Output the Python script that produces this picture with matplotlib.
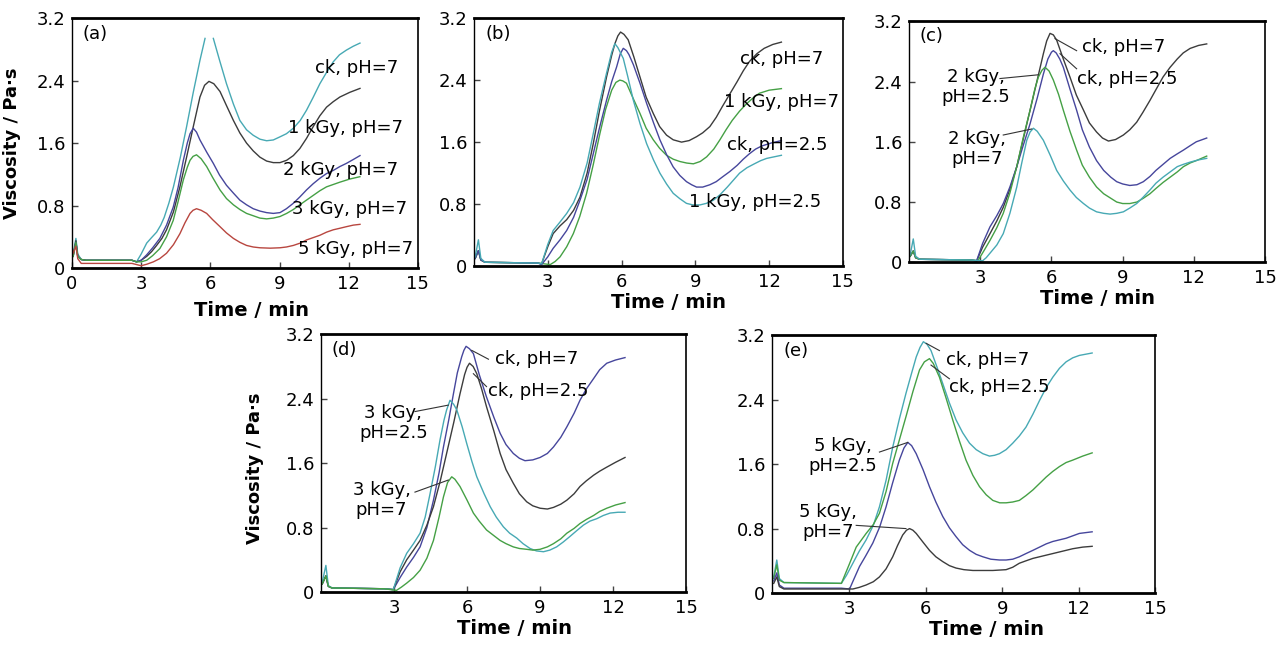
import numpy as np
import matplotlib
matplotlib.use("Agg")
import matplotlib.pyplot as plt

# ---------------- data: (time / min, viscosity / Pa·s) ----------------
# Panel (a)
A_CK7 = [(0.05, .18), (.17, .38), (.25, .18), (.4, .11), (.6, .10), (2.6, .10), (2.8, .08), (3.0, .18),
         (3.24, .32), (3.45, .39), (3.67, .46), (3.85, .55), (4.0, .65), (4.2, .83), (4.4, 1.04), (4.7, 1.42),
         (4.97, 1.81), (5.26, 2.25), (5.55, 2.66), (5.77, 2.94), (np.nan, np.nan), (6.13, 2.94), (6.4, 2.66),
         (6.7, 2.36), (7.0, 2.10), (7.28, 1.89), (7.57, 1.77), (7.86, 1.70), (8.15, 1.65), (8.44, 1.63),
         (8.73, 1.64), (9.02, 1.68), (9.3, 1.72), (9.6, 1.79), (9.9, 1.89), (10.17, 2.02), (10.45, 2.18),
         (10.75, 2.36), (11.05, 2.51), (11.33, 2.64), (11.6, 2.73), (11.9, 2.79), (12.2, 2.84), (12.49, 2.88)]
A_1K7 = [(0.05, .15), (.17, .35), (.25, .15), (.4, .11), (.6, .10), (2.6, .10), (2.8, .08), (3.0, .10),
         (3.24, .15), (3.45, .21), (3.67, .29), (3.9, .38), (4.1, .49), (4.4, .72), (4.68, 1.04), (4.97, 1.42),
         (5.26, 1.81), (5.55, 2.19), (5.75, 2.34), (5.94, 2.39), (6.15, 2.36), (6.42, 2.26), (6.7, 2.08),
         (7.0, 1.89), (7.28, 1.73), (7.57, 1.60), (7.86, 1.50), (8.15, 1.42), (8.44, 1.37), (8.73, 1.35),
         (9.02, 1.35), (9.31, 1.38), (9.6, 1.44), (9.88, 1.53), (10.17, 1.66), (10.46, 1.81), (10.75, 1.95),
         (11.04, 2.06), (11.33, 2.13), (11.62, 2.19), (12.05, 2.25), (12.49, 2.30)]
A_2K7 = [(0.05, .15), (.17, .33), (.25, .15), (.4, .11), (.6, .10), (2.6, .10), (2.8, .08), (3.0, .10),
         (3.24, .17), (3.5, .26), (3.81, .38), (4.1, .55), (4.39, .78), (4.6, 1.03), (4.83, 1.38), (5.0, 1.60),
         (5.12, 1.72), (5.26, 1.79), (5.4, 1.74), (5.55, 1.64), (5.85, 1.48), (6.13, 1.34), (6.4, 1.19),
         (6.7, 1.06), (7.0, 0.96), (7.28, 0.87), (7.57, 0.81), (7.86, 0.76), (8.15, 0.73), (8.44, 0.71),
         (8.73, 0.70), (9.02, 0.71), (9.3, 0.76), (9.6, 0.83), (9.88, 0.91), (10.17, 1.00), (10.46, 1.08),
         (10.75, 1.15), (11.04, 1.21), (11.33, 1.25), (11.62, 1.30), (11.9, 1.34), (12.2, 1.39), (12.49, 1.44)]
A_3K7 = [(0.05, .15), (.17, .33), (.25, .15), (.4, .11), (.6, .10), (2.6, .10), (2.8, .08), (3.0, .08),
         (3.24, .10), (3.5, .16), (3.81, .25), (4.1, .40), (4.39, .61), (4.6, .85), (4.83, 1.13), (5.0, 1.29),
         (5.12, 1.38), (5.25, 1.43), (5.4, 1.45), (5.6, 1.40), (5.84, 1.30), (6.1, 1.16), (6.42, 1.00),
         (6.7, 0.89), (7.0, 0.81), (7.28, 0.75), (7.57, 0.70), (7.86, 0.67), (8.15, 0.64), (8.44, 0.63),
         (8.73, 0.64), (9.02, 0.66), (9.31, 0.70), (9.6, 0.75), (9.88, 0.81), (10.17, 0.87), (10.46, 0.93),
         (10.75, 0.99), (11.04, 1.04), (11.33, 1.07), (11.62, 1.10), (12.05, 1.14), (12.49, 1.17)]
A_5K7 = [(0.05, .19), (.17, .28), (.25, .12), (.4, .06), (2.6, .06), (3.0, .03), (3.25, .05), (3.53, .08),
         (3.8, .12), (4.1, .19), (4.4, .30), (4.68, .44), (4.9, .58), (5.12, .70), (5.25, .74), (5.4, .76),
         (5.6, .74), (5.84, .70), (6.1, .62), (6.42, .53), (6.7, .45), (7.0, .38), (7.28, .33), (7.57, .29),
         (7.86, .27), (8.15, .26), (8.6, .255), (9.02, .26), (9.3, .27), (9.6, .29), (9.9, .32), (10.17, .36),
         (10.46, .39), (10.75, .42), (11.04, .46), (11.33, .49), (11.62, .51), (11.9, .53), (12.2, .55),
         (12.49, .56)]

# Panel (b)
B_CK7 = [(0.05, .10), (.18, .20), (.28, .08), (.45, .05), (2.6, .04), (2.75, .03), (3.0, .25), (3.22, .42),
         (3.5, .52), (3.77, .60), (4.05, .72), (4.31, .89), (4.6, 1.20), (4.85, 1.58), (5.1, 2.00), (5.39, 2.44),
         (5.6, 2.72), (5.73, 2.87), (5.85, 2.97), (5.96, 3.02), (6.1, 2.99), (6.27, 2.92), (6.5, 2.70),
         (6.75, 2.44), (7.0, 2.18), (7.29, 1.97), (7.55, 1.80), (7.83, 1.69), (8.1, 1.63), (8.44, 1.60),
         (8.75, 1.62), (9.05, 1.67), (9.3, 1.72), (9.59, 1.80), (9.85, 1.92), (10.1, 2.06), (10.4, 2.22),
         (10.7, 2.38), (10.95, 2.52), (11.2, 2.64), (11.5, 2.74), (11.8, 2.81), (12.15, 2.86), (12.5, 2.89)]
B_1K7 = [(0.05, .10), (.18, .20), (.28, .08), (.45, .05), (2.6, .04), (3.1, .02), (3.3, .06), (3.5, .12),
         (3.77, .25), (4.04, .42), (4.3, .64), (4.58, .94), (4.85, 1.31), (5.12, 1.71), (5.35, 2.02), (5.6, 2.27),
         (5.77, 2.37), (5.93, 2.40), (6.05, 2.39), (6.2, 2.36), (6.45, 2.18), (6.75, 1.97), (7.0, 1.78),
         (7.29, 1.63), (7.55, 1.52), (7.83, 1.43), (8.1, 1.38), (8.37, 1.35), (8.65, 1.33), (8.92, 1.32),
         (9.2, 1.35), (9.46, 1.41), (9.75, 1.51), (10.0, 1.63), (10.25, 1.76), (10.5, 1.88), (10.8, 2.00),
         (11.1, 2.10), (11.35, 2.17), (11.6, 2.23), (12.0, 2.27), (12.5, 2.29)]
B_CK25 = [(0.05, .10), (.18, .20), (.28, .08), (.45, .05), (2.6, .04), (2.75, .02), (3.0, .12), (3.22, .23),
          (3.5, .34), (3.77, .46), (4.05, .63), (4.31, .85), (4.6, 1.12), (4.85, 1.45), (5.1, 1.78), (5.39, 2.14),
          (5.6, 2.38), (5.8, 2.57), (5.95, 2.74), (6.07, 2.81), (6.2, 2.78), (6.3, 2.73), (6.48, 2.60),
          (6.75, 2.36), (7.02, 2.10), (7.3, 1.85), (7.56, 1.63), (7.83, 1.44), (8.1, 1.28), (8.37, 1.17),
          (8.64, 1.09), (8.85, 1.05), (9.05, 1.02), (9.3, 1.02), (9.59, 1.05), (9.85, 1.09), (10.1, 1.15),
          (10.4, 1.22), (10.7, 1.30), (10.95, 1.38), (11.2, 1.45), (11.45, 1.51), (11.7, 1.55), (12.1, 1.59),
          (12.5, 1.62)]
B_1K25 = [(0.05, .12), (.18, .34), (.28, .10), (.45, .05), (2.6, .04), (2.75, .03), (3.0, .28), (3.22, .46),
          (3.5, .57), (3.77, .68), (4.05, .82), (4.31, 1.02), (4.6, 1.33), (4.85, 1.71), (5.1, 2.10), (5.39, 2.49),
          (5.6, 2.76), (5.73, 2.87), (5.85, 2.82), (6.07, 2.68), (6.25, 2.45), (6.48, 2.14), (6.75, 1.84),
          (7.02, 1.58), (7.3, 1.37), (7.56, 1.20), (7.83, 1.06), (8.1, 0.94), (8.37, 0.87), (8.64, 0.81),
          (8.9, 0.79), (9.19, 0.79), (9.45, 0.81), (9.73, 0.85), (10.0, 0.92), (10.3, 1.02), (10.55, 1.11),
          (10.8, 1.20), (11.1, 1.27), (11.4, 1.32), (11.65, 1.36), (11.9, 1.39), (12.2, 1.41), (12.5, 1.43)]

# Panel (c)
C_CK7 = [(0.05, .08), (.18, .15), (.28, .06), (.45, .04), (2.6, .03), (2.85, .02), (3.1, .20), (3.41, .38),
         (3.7, .55), (3.97, .73), (4.25, .97), (4.54, 1.27), (4.8, 1.62), (5.1, 2.02), (5.4, 2.42), (5.66, 2.77),
         (5.8, 2.94), (5.94, 3.04), (6.08, 3.02), (6.22, 2.95), (6.5, 2.70), (6.78, 2.46), (7.05, 2.22),
         (7.35, 2.02), (7.6, 1.85), (7.9, 1.73), (8.15, 1.65), (8.4, 1.61), (8.7, 1.63), (9.03, 1.69),
         (9.3, 1.76), (9.59, 1.86), (9.85, 1.99), (10.15, 2.15), (10.45, 2.32), (10.7, 2.46), (11.0, 2.59),
         (11.3, 2.70), (11.55, 2.78), (11.84, 2.84), (12.2, 2.88), (12.54, 2.90)]
C_CK25 = [(0.05, .08), (.18, .15), (.28, .06), (.45, .04), (2.6, .03), (2.85, .02), (3.1, .25), (3.41, .47),
          (3.7, .62), (3.97, .78), (4.25, 1.00), (4.54, 1.27), (4.8, 1.54), (5.1, 1.84), (5.4, 2.18),
          (5.66, 2.50), (5.85, 2.70), (6.0, 2.79), (6.08, 2.81), (6.2, 2.78), (6.35, 2.70), (6.5, 2.59),
          (6.78, 2.30), (7.06, 2.02), (7.3, 1.76), (7.6, 1.53), (7.9, 1.35), (8.2, 1.22), (8.5, 1.13),
          (8.75, 1.07), (9.0, 1.04), (9.3, 1.02), (9.6, 1.03), (9.87, 1.07), (10.15, 1.14), (10.4, 1.22),
          (10.7, 1.30), (11.0, 1.38), (11.3, 1.44), (11.56, 1.49), (11.85, 1.55), (12.1, 1.60), (12.54, 1.65)]
C_2K25 = [(0.05, .08), (.18, .15), (.28, .06), (.45, .04), (2.6, .03), (2.9, .02), (3.15, .15), (3.41, .29),
          (3.7, .46), (3.97, .65), (4.25, .92), (4.54, 1.27), (4.8, 1.64), (5.1, 2.02), (5.3, 2.30),
          (5.45, 2.46), (5.6, 2.55), (5.73, 2.59), (5.9, 2.54), (6.08, 2.42), (6.3, 2.23), (6.5, 2.02),
          (6.78, 1.74), (7.06, 1.49), (7.3, 1.29), (7.6, 1.13), (7.9, 1.00), (8.2, 0.91), (8.5, 0.85),
          (8.75, 0.80), (9.0, 0.78), (9.3, 0.78), (9.6, 0.80), (9.87, 0.85), (10.15, 0.91), (10.4, 0.98),
          (10.7, 1.06), (11.0, 1.13), (11.3, 1.20), (11.56, 1.27), (11.85, 1.32), (12.1, 1.35), (12.54, 1.41)]
C_2K7 = [(0.05, .10), (.18, .31), (.28, .08), (.45, .04), (2.6, .03), (3.1, .02), (3.25, .06), (3.41, .12),
         (3.7, .23), (3.97, .38), (4.25, .65), (4.54, 1.00), (4.75, 1.32), (4.96, 1.62), (5.1, 1.73),
         (5.24, 1.78), (5.4, 1.74), (5.66, 1.62), (5.95, 1.42), (6.22, 1.22), (6.5, 1.08), (6.78, 0.96),
         (7.05, 0.86), (7.35, 0.78), (7.6, 0.72), (7.9, 0.67), (8.2, 0.65), (8.47, 0.64), (8.75, 0.65),
         (9.03, 0.67), (9.3, 0.72), (9.59, 0.78), (9.85, 0.86), (10.15, 0.96), (10.4, 1.05), (10.7, 1.13),
         (11.0, 1.20), (11.3, 1.27), (11.55, 1.30), (11.84, 1.33), (12.2, 1.36), (12.54, 1.38)]

# Panel (d)
D_CK7 = [(0.05, .10), (.2, .20), (.3, .07), (.45, .05), (2.6, .04), (2.97, .03), (3.25, .18), (3.52, .31),
         (3.8, .43), (4.07, .56), (4.35, .80), (4.62, 1.14), (4.85, 1.48), (5.03, 1.80), (5.25, 2.14),
         (5.44, 2.46), (5.6, 2.72), (5.78, 2.92), (5.87, 3.00), (5.96, 3.05), (6.1, 3.02), (6.26, 2.96),
         (6.5, 2.70), (6.8, 2.42), (7.1, 2.17), (7.36, 1.97), (7.6, 1.83), (7.9, 1.72), (8.15, 1.66),
         (8.38, 1.63), (8.7, 1.64), (9.0, 1.67), (9.3, 1.72), (9.55, 1.80), (9.85, 1.92), (10.1, 2.05),
         (10.4, 2.22), (10.64, 2.38), (10.9, 2.52), (11.2, 2.65), (11.45, 2.76), (11.74, 2.84), (12.1, 2.88),
         (12.49, 2.91)]
D_CK25 = [(0.05, .10), (.2, .20), (.3, .07), (.45, .05), (2.6, .04), (2.97, .03), (3.25, .25), (3.52, .40),
          (3.8, .52), (4.07, .64), (4.35, .83), (4.62, 1.06), (4.9, 1.38), (5.16, 1.72), (5.45, 2.10),
          (5.71, 2.46), (5.9, 2.70), (6.0, 2.79), (6.1, 2.84), (6.25, 2.80), (6.4, 2.71), (6.6, 2.52),
          (6.8, 2.30), (7.1, 2.00), (7.36, 1.72), (7.6, 1.52), (7.9, 1.35), (8.15, 1.22), (8.45, 1.12),
          (8.7, 1.07), (9.0, 1.04), (9.3, 1.03), (9.55, 1.05), (9.85, 1.09), (10.1, 1.14), (10.4, 1.22),
          (10.64, 1.31), (10.9, 1.38), (11.2, 1.45), (11.45, 1.50), (11.74, 1.55), (12.1, 1.61), (12.49, 1.67)]
D_3K25 = [(0.05, .12), (.2, .33), (.3, .08), (.45, .05), (2.6, .04), (2.97, .03), (3.25, .30), (3.52, .48),
          (3.8, .60), (4.07, .73), (4.28, .93), (4.48, 1.22), (4.7, 1.56), (4.89, 1.89), (5.05, 2.13),
          (5.16, 2.26), (5.3, 2.38), (5.45, 2.33), (5.58, 2.26), (5.8, 2.05), (5.99, 1.84), (6.2, 1.62),
          (6.4, 1.43), (6.7, 1.22), (6.95, 1.06), (7.2, 0.93), (7.49, 0.81), (7.75, 0.73), (8.04, 0.67),
          (8.3, 0.60), (8.59, 0.54), (8.85, 0.51), (9.14, 0.50), (9.4, 0.52), (9.68, 0.56), (9.95, 0.62),
          (10.23, 0.69), (10.5, 0.76), (10.78, 0.83), (11.05, 0.88), (11.33, 0.91), (11.6, 0.95), (11.88, 0.98),
          (12.2, 0.99), (12.49, 0.99)]
D_3K7 = [(0.05, .10), (.2, .20), (.3, .07), (.45, .05), (2.6, .04), (3.1, .02), (3.3, .06), (3.52, .11),
         (3.8, .18), (4.07, .27), (4.35, .42), (4.62, .64), (4.85, .93), (5.03, 1.18), (5.2, 1.36),
         (5.37, 1.43), (5.5, 1.40), (5.71, 1.31), (6.0, 1.14), (6.26, 0.98), (6.5, 0.88), (6.8, 0.77),
         (7.1, 0.70), (7.36, 0.64), (7.6, 0.60), (7.9, 0.56), (8.15, 0.54), (8.45, 0.53), (8.7, 0.52),
         (9.0, 0.53), (9.3, 0.56), (9.55, 0.60), (9.85, 0.66), (10.1, 0.73), (10.4, 0.79), (10.64, 0.85),
         (10.9, 0.90), (11.2, 0.95), (11.45, 1.00), (11.74, 1.04), (12.1, 1.08), (12.49, 1.11)]

# Panel (e)
E_CK7 = [(0.05, .20), (.17, .41), (.27, .18), (.45, .13), (2.7, .12), (2.9, .22), (3.15, .37), (3.4, .52),
         (3.67, .66), (3.95, .84), (4.19, 1.07), (4.45, 1.40), (4.71, 1.81), (4.97, 2.16), (5.23, 2.48),
         (5.45, 2.73), (5.63, 2.93), (5.78, 3.05), (5.91, 3.12), (6.05, 3.09), (6.21, 3.01), (6.45, 2.80),
         (6.67, 2.60), (6.93, 2.36), (7.19, 2.15), (7.45, 1.99), (7.72, 1.86), (7.98, 1.78), (8.24, 1.73),
         (8.5, 1.70), (8.7, 1.71), (8.89, 1.73), (9.15, 1.78), (9.41, 1.86), (9.67, 1.95), (9.93, 2.06),
         (10.2, 2.22), (10.46, 2.39), (10.72, 2.55), (10.98, 2.68), (11.24, 2.79), (11.5, 2.87), (11.76, 2.92),
         (12.02, 2.95), (12.52, 2.98)]
E_CK25 = [(0.05, .18), (.17, .35), (.27, .16), (.45, .13), (2.7, .12), (3.0, .35), (3.28, .57), (3.67, .74),
          (3.95, .85), (4.19, .99), (4.45, 1.26), (4.71, 1.61), (4.97, 1.90), (5.23, 2.19), (5.5, 2.50),
          (5.76, 2.77), (5.95, 2.87), (6.15, 2.91), (6.3, 2.85), (6.54, 2.68), (6.8, 2.42), (7.06, 2.15),
          (7.32, 1.89), (7.58, 1.65), (7.85, 1.46), (8.11, 1.32), (8.37, 1.22), (8.63, 1.15), (8.9, 1.12),
          (9.15, 1.12), (9.41, 1.13), (9.67, 1.15), (9.93, 1.21), (10.2, 1.28), (10.46, 1.36), (10.72, 1.44),
          (10.98, 1.51), (11.24, 1.57), (11.5, 1.62), (11.76, 1.65), (12.15, 1.70), (12.52, 1.74)]
E_5K25 = [(0.05, .15), (.17, .25), (.27, .10), (.45, .06), (2.7, .06), (3.02, .05), (3.2, .18), (3.41, .33),
          (3.65, .46), (3.93, .62), (4.2, .82), (4.45, 1.07), (4.7, 1.36), (4.97, 1.65), (5.15, 1.80),
          (5.3, 1.87), (5.45, 1.83), (5.63, 1.73), (5.9, 1.53), (6.15, 1.32), (6.4, 1.13), (6.67, 0.95),
          (6.93, 0.81), (7.19, 0.70), (7.45, 0.60), (7.72, 0.53), (7.98, 0.48), (8.24, 0.45), (8.55, 0.42),
          (8.89, 0.41), (9.15, 0.41), (9.41, 0.42), (9.67, 0.45), (9.93, 0.49), (10.2, 0.53), (10.46, 0.57),
          (10.72, 0.61), (10.98, 0.64), (11.24, 0.66), (11.5, 0.68), (11.76, 0.71), (12.02, 0.74), (12.52, 0.76)]
E_5K7 = [(0.05, .12), (.17, .20), (.27, .08), (.45, .05), (2.7, .05), (3.15, .05), (3.4, .07), (3.67, .10),
         (3.95, .14), (4.19, .20), (4.45, .30), (4.71, .45), (4.9, .59), (5.1, .72), (5.25, .78), (5.37, .80),
         (5.5, .78), (5.63, .74), (5.9, .63), (6.15, .53), (6.4, .45), (6.67, .39), (6.93, .34), (7.19, .31),
         (7.5, .29), (7.85, .28), (8.25, .28), (8.63, .28), (9.15, .29), (9.41, .32), (9.67, .37), (9.93, .40),
         (10.2, .43), (10.46, .45), (10.72, .47), (10.98, .49), (11.24, .51), (11.5, .53), (11.76, .55),
         (12.15, .57), (12.52, .58)]

Y_TICKS = [0, 0.8, 1.6, 2.4, 3.2]
Y_TICK_LABELS = ["0", "0.8", "1.6", "2.4", "3.2"]
X_TICKS = [0, 3, 6, 9, 12, 15]

# ---------------- styling ----------------
TEAL = "#47a9b4"
GRAY = "#3c3c3c"
PURPLE = "#46469c"
GREEN = "#45a045"
RED = "#b8463f"

plt.rcParams['font.family'] = ['DejaVu Sans']
FS = 13
LW = 1.0

fig = plt.figure(figsize=(12.81, 6.46), dpi=100)


def make_axes(rect, tag, show_x0, xlab_xy, ylab_xy=None):
    ax = fig.add_axes(rect)
    ax.set_xlim(0, 15)
    ax.set_ylim(0, 3.2)
    ticks = X_TICKS if show_x0 else X_TICKS[1:]
    ax.set_xticks(ticks)
    ax.set_xticklabels([str(x) for x in ticks])
    ax.set_yticks(Y_TICKS)
    ax.set_yticklabels(Y_TICK_LABELS)
    ax.tick_params(direction='in', length=4, width=1, labelsize=FS, pad=5, color='#444444')
    ax.spines['left'].set_linewidth(1.0)
    ax.spines['right'].set_linewidth(1.2)
    ax.spines['top'].set_linewidth(2.0)
    ax.spines['bottom'].set_linewidth(2.0)
    ax.set_xlabel("Time / min", fontsize=14, fontweight='bold')
    ax.xaxis.set_label_coords(*xlab_xy)
    if ylab_xy is not None:
        ax.set_ylabel("Viscosity / Pa·s", fontsize=13, fontweight='bold')
        ax.yaxis.set_label_coords(*ylab_xy)
    ax.text(0.45, 3.0, tag, fontsize=FS, ha='left', va='center')
    return ax


def curve(ax, pts, color):
    arr = np.array(pts, dtype=float)
    ax.plot(arr[:, 0], arr[:, 1], color=color, lw=LW)


def leader(ax, txt, txy, p0, p1, ha='left'):
    ax.text(txy[0], txy[1], txt, fontsize=FS, ha=ha, va='center', linespacing=1.15)
    ax.plot([p0[0], p1[0]], [p0[1], p1[1]], color='#333333', lw=0.8)


# ---- (a)
axa = make_axes([0.0562, 0.585, 0.270, 0.387], "(a)", True, (0.52, -0.132), (-0.148, 0.5))
curve(axa, A_CK7, TEAL)
curve(axa, A_1K7, GRAY)
curve(axa, A_2K7, PURPLE)
curve(axa, A_3K7, GREEN)
curve(axa, A_5K7, RED)
for x, y, s in [(10.55, 2.56, "ck, pH=7"), (9.38, 1.79, "1 kGy, pH=7"),
                (9.16, 1.25, "2 kGy, pH=7"), (9.52, 0.76, "3 kGy, pH=7"),
                (9.81, 0.24, "5 kGy, pH=7")]:
    axa.text(x, y, s, fontsize=FS, ha='left', va='center')

# ---- (b)
axb = make_axes([0.370, 0.588, 0.288, 0.384], "(b)", False, (0.527, -0.109))
curve(axb, B_CK7, GRAY)
curve(axb, B_1K7, GREEN)
curve(axb, B_CK25, PURPLE)
curve(axb, B_1K25, TEAL)
for x, y, s in [(10.81, 2.67, "ck, pH=7"), (10.16, 2.12, "1 kGy, pH=7"),
                (10.27, 1.56, "ck, pH=2.5"), (8.75, 0.83, "1 kGy, pH=2.5")]:
    axb.text(x, y, s, fontsize=FS, ha='left', va='center')

# ---- (c)
axc = make_axes([0.7096, 0.594, 0.278, 0.373], "(c)", False, (0.53, -0.112))
curve(axc, C_CK7, GRAY)
curve(axc, C_CK25, PURPLE)
curve(axc, C_2K25, GREEN)
curve(axc, C_2K7, TEAL)
leader(axc, "ck, pH=7", (7.28, 2.86), (7.06, 2.81), (6.15, 2.97))
leader(axc, "ck, pH=2.5", (7.06, 2.43), (7.06, 2.57), (6.36, 2.77))
leader(axc, "2 kGy,\npH=2.5", (2.8, 2.33), (3.83, 2.44), (5.45, 2.49), ha='center')
leader(axc, "2 kGy,\npH=7", (2.85, 1.51), (3.97, 1.69), (5.17, 1.77), ha='center')

# ---- (d)
axd = make_axes([0.2506, 0.0836, 0.285, 0.399], "(d)", False, (0.53, -0.105), (-0.156, 0.48))
curve(axd, D_CK7, PURPLE)
curve(axd, D_CK25, GRAY)
curve(axd, D_3K25, TEAL)
curve(axd, D_3K7, GREEN)
leader(axd, "ck, pH=7", (7.15, 2.89), (6.88, 2.89), (6.19, 3.0))
leader(axd, "ck, pH=2.5", (6.88, 2.5), (6.8, 2.55), (6.26, 2.71))
leader(axd, "3 kGy,\npH=2.5", (2.97, 2.1), (3.86, 2.24), (5.23, 2.32), ha='center')
leader(axd, "3 kGy,\npH=7", (2.49, 1.14), (3.86, 1.24), (5.23, 1.39), ha='center')

# ---- (e)
axe = make_axes([0.603, 0.082, 0.299, 0.399], "(e)", False, (0.56, -0.105))
curve(axe, E_CK7, TEAL)
curve(axe, E_CK25, GREEN)
curve(axe, E_5K25, PURPLE)
curve(axe, E_5K7, GRAY)
leader(axe, "ck, pH=7", (6.8, 2.89), (6.54, 3.01), (6.02, 3.1))
leader(axe, "ck, pH=2.5", (6.93, 2.56), (6.93, 2.66), (6.21, 2.83))
leader(axe, "5 kGy,\npH=2.5", (2.75, 1.7), (4.19, 1.75), (5.3, 1.87), ha='center')
leader(axe, "5 kGy,\npH=7", (2.17, 0.88), (3.28, 0.84), (5.23, 0.80), ha='center')

fig.savefig("out.png", dpi=100)
